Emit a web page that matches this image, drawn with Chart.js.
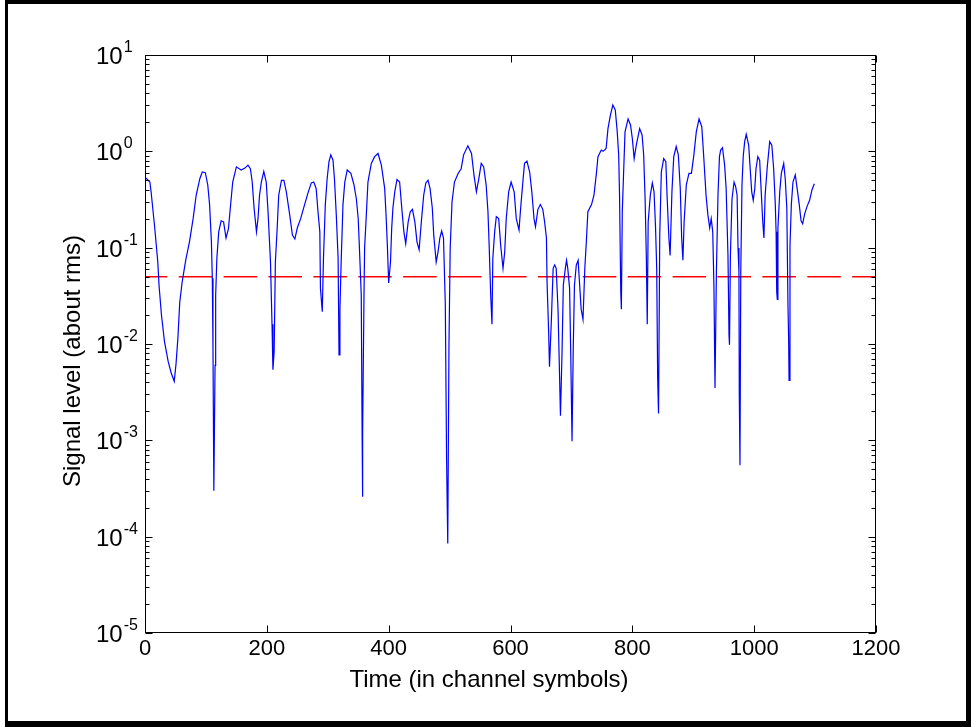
<!DOCTYPE html>
<html>
<head>
<meta charset="utf-8">
<script src="https://cdn.jsdelivr.net/npm/chart.js@4.4.1/dist/chart.umd.min.js"></script>
<style>
html,body{margin:0;padding:0;background:#fff;}
#wrap{position:relative;width:971px;height:727px;}
</style>
</head>
<body>
<div id="wrap"><canvas id="c" width="971" height="727"></canvas></div>
<script>
// ---- data (time in channel symbols, signal level about rms) ----
const timesA = [0,8,10,16,21,23,27,32,38,43,
 48,51,54,57,61,67,73,79,84,90,
 94,99,103,106,109,110.5,111.6,113,115,116,
 118,121,125,129,133,137,141,144,150,158,
 164,169,173,176,179,183,185.5,188,191,195,
 199,202,206,208.5,210,212,214,217,219.5,224,
 228,232,237.5,242,246,250,255.5,262,267.6,273,
 277,281,284,287,288,291,293,296,299,302,
 305,308.6,311,314,317,318.5,320,322,325,328,
 332,338,343,347,350,352,355,356.5,357,357.5,
 359.5,360.5,363,366,371.5,377];
const levelsA = [0.54,0.48,0.38,0.16,0.071,0.041,0.020,0.0106,0.0066,0.005,
 0.0041,0.0063,0.0115,0.027,0.044,0.075,0.115,0.20,0.35,0.52,
 0.61,0.60,0.45,0.28,0.115,0.048,0.009,0.0003,0.006,0.032,
 0.078,0.146,0.19,0.185,0.126,0.158,0.30,0.48,0.69,0.64,
 0.67,0.72,0.66,0.48,0.26,0.146,0.20,0.35,0.48,0.62,
 0.48,0.236,0.071,0.016,0.0054,0.0083,0.071,0.16,0.35,0.50,
 0.50,0.38,0.22,0.135,0.123,0.16,0.20,0.28,0.37,0.47,
 0.48,0.41,0.236,0.146,0.038,0.0216,0.078,0.28,0.52,0.78,
 0.92,0.81,0.52,0.22,0.078,0.0077,0.023,0.071,0.28,0.48,
 0.64,0.59,0.45,0.32,0.20,0.099,0.032,0.001,0.00026,0.0012,
 0.032,0.099,0.20,0.48,0.75,0.88];

const timesB = [382.5,388,393.5,396,398,400,403,405,407,410,
 413.7,418,422,425,428,432,435.5,439,443,446.5,
 450,453.6,457.5,461,464.6,468,471.6,474,478,481,
 484,487,490,493,495,497,499,501,504,508,
 514,519,523,530,536,540,544,548,552,556,
 560,563,565,567.5,569.6,571,574,576.7,580.6,584,
 587.7,590.5,593,597,601,606,609.5,614,616.7,620.5,
 623,627,631.5,635,638.6,641,645,649,653,656,
 659,660,662.6,664,667,670,672.5,675,678,680,
 682,684.5,686.7,690,692,694,697,699,701,703,
 705,708,711,713.5,716,719,722,724.5,727,733,
 737,741,743.6,749];
const levelsB = [0.95,0.72,0.41,0.20,0.099,0.043,0.071,0.16,0.26,0.38,
 0.51,0.48,0.236,0.146,0.11,0.185,0.236,0.25,0.185,0.115,
 0.095,0.185,0.35,0.47,0.50,0.41,0.26,0.135,0.071,0.09,
 0.126,0.149,0.126,0.0254,0.0007,0.000085,0.0098,0.099,0.30,0.48,
 0.59,0.66,0.92,1.14,0.95,0.57,0.38,0.52,0.75,0.69,
 0.45,0.236,0.104,0.032,0.016,0.078,0.146,0.21,0.20,0.104,
 0.061,0.09,0.20,0.38,0.48,0.38,0.20,0.152,0.26,0.50,
 0.75,0.79,0.61,0.38,0.20,0.165,0.25,0.28,0.25,0.185,
 0.126,0.044,0.0135,0.0058,0.017,0.061,0.066,0.061,0.023,0.0066,
 0.0018,0.0077,0.041,0.061,0.074,0.061,0.038,0.0071,0.00098,0.009,
 0.041,0.066,0.074,0.041,0.023,0.018,0.061,0.115,0.236,0.28,
 0.35,0.59,0.88,1.03];

const timesC = [752,757,760,764,768,772,775,777.6,779,781,
 782,783.5,786,788,793,797,800,803,806.5,812,
 816,818.6,821,823,824.5,826,829.5,832.8,835.6,838,
 840,841.6,843,845,847.6,851.5,855,857,860,862,
 865,868,872,875.5,878.7,881,883,885,888.6,893,
 897,900.7,905,909.5,914,917,921,924,927,929.5,
 932,934,935.7,938,940.6,943];
const levelsC = [1.0,1.07,1.72,2.38,3.02,2.69,1.66,0.92,0.35,0.035,
 0.023,0.236,0.69,1.59,2.17,1.88,1.36,0.84,1.16,1.72,
 1.48,0.92,0.32,0.078,0.016,0.185,0.35,0.47,0.38,0.17,
 0.061,0.0044,0.0019,0.135,0.61,0.84,0.78,0.35,0.126,0.083,
 0.38,0.88,1.12,0.92,0.41,0.126,0.074,0.185,0.45,0.59,
 0.59,0.88,1.59,2.17,1.80,0.92,0.35,0.22,0.16,0.20,
 0.146,0.038,0.0035,0.056,0.35,0.88];

const timesD = [945,948,951.5,954,957,958.7,959.5,961,963.6,967,
 969.6,972,973.5,975,975.6,976.7,978,980,982,984.4,
 987,991,993.6,996,998.5,1001,1003,1006,1009,1011.6,
 1014,1016,1018,1021.5,1025.5,1029,1032,1034.7,1036,1037,
 1038,1039,1042,1044.6,1048.5,1051,1053.6,1055.5,1056.6,1057.3,
 1058.8,1061,1063.7,1067.5,1070.8,1074,1077,1079.6,1083,1087,
 1091,1095,1098.7];
const levelsD = [1.03,1.09,0.72,0.41,0.083,0.0123,0.0098,0.083,0.32,0.48,
 0.43,0.35,0.099,0.056,0.0029,0.00055,0.056,0.45,0.88,1.26,
 1.50,1.16,0.64,0.38,0.31,0.41,0.66,0.88,0.81,0.38,
 0.19,0.126,0.35,0.69,1.26,1.16,0.66,0.28,0.146,0.035,
 0.029,0.16,0.38,0.59,0.75,0.52,0.26,0.0254,0.0112,0.0042,
 0.104,0.28,0.48,0.57,0.40,0.28,0.19,0.177,0.226,0.27,
 0.31,0.40,0.46];

const thresholdTimes = [0, 1200];
const thresholdLevels = [0.05, 0.05];

const xTickValues = [0, 200, 400, 600, 800, 1000, 1200];
const yExponents = [1, 0, -1, -2, -3, -4, -5];
const xTitle = 'Time (in channel symbols)';
const yTitle = 'Signal level (about rms)';

// ---- build library data ----
const times = [].concat(timesA, timesB, timesC, timesD);
const levels = [].concat(levelsA, levelsB, levelsC, levelsD);
const signal = times.map((t, i) => ({x: t, y: levels[i]}));
const threshold = thresholdTimes.map((t, i) => ({x: t, y: thresholdLevels[i]}));

const FONT = "'Liberation Sans', Arial, Helvetica, sans-serif";

const decor = {
  id: 'decor',
  beforeDraw(chart) {
    const ctx = chart.ctx;
    ctx.save();
    ctx.fillStyle = '#fff';
    ctx.fillRect(0, 0, chart.width, chart.height);
    ctx.fillStyle = '#000';
    ctx.fillRect(5, 0, 966, 4);     // top frame
    ctx.fillRect(5, 0, 3, 727);     // left frame
    ctx.fillRect(966, 0, 5, 727);   // right frame
    ctx.fillRect(5, 721, 966, 6);   // bottom frame
    ctx.restore();
  },
  afterDraw(chart) {
    const ctx = chart.ctx;
    const a = chart.chartArea;
    const xs = chart.scales.x, ys = chart.scales.y;
    ctx.save();
    ctx.strokeStyle = '#000';
    ctx.lineWidth = 1;
    const L = Math.round(a.left) + 0.5, R = Math.round(a.right) - 0.5;
    const T = Math.round(a.top) + 0.5, B = Math.round(a.bottom) - 0.5;
    ctx.strokeRect(L, T, R - L, B - T);
    ctx.beginPath();
    xTickValues.forEach(v => {
      const px = Math.round(xs.getPixelForValue(v)) + 0.5;
      ctx.moveTo(px, B); ctx.lineTo(px, B - 7);
      ctx.moveTo(px, T); ctx.lineTo(px, T + 7);
    });
    yExponents.forEach(e => {
      const py = Math.round(ys.getPixelForValue(Math.pow(10, e))) + 0.5;
      ctx.moveTo(L, py); ctx.lineTo(L + 7, py);
      ctx.moveTo(R, py); ctx.lineTo(R - 7, py);
      if (e > -5) {
        for (let m = 2; m <= 9; m++) {
          const q = Math.round(ys.getPixelForValue(m * Math.pow(10, e - 1))) + 0.5;
          ctx.moveTo(L, q); ctx.lineTo(L + 4, q);
          ctx.moveTo(R, q); ctx.lineTo(R - 4, q);
        }
      }
    });
    ctx.stroke();

    // y tick labels 10^k
    ctx.fillStyle = '#000';
    ctx.textAlign = 'left';
    ctx.textBaseline = 'alphabetic';
    yExponents.forEach(e => {
      const py = ys.getPixelForValue(Math.pow(10, e));
      ctx.font = '24px ' + FONT;
      ctx.fillText('10', 96, py + 9);
      const w = ctx.measureText('10').width;
      ctx.font = '16px ' + FONT;
      ctx.fillText(String(e), 96 + w + 1, py - 3);
    });

    // axis titles
    ctx.font = '24px ' + FONT;
    ctx.textAlign = 'center';
    ctx.fillText(xTitle, 489, 687);
    ctx.translate(80, 361);
    ctx.rotate(-Math.PI / 2);
    ctx.fillText(yTitle, 0, 0);
    ctx.restore();
  }
};

new Chart(document.getElementById('c'), {
  type: 'line',
  data: {
    datasets: [
      {label: 'signal', data: signal, borderColor: '#0000ff', borderWidth: 1.2,
       pointRadius: 0, tension: 0, fill: false},
      {label: 'threshold', data: threshold, borderColor: '#ff0000', borderWidth: 1.5,
       borderDash: [33.5, 11.4], borderDashOffset: 11.2, pointRadius: 0, tension: 0, fill: false}
    ]
  },
  options: {
    responsive: false,
    animation: false,
    devicePixelRatio: 1,
    layout: {padding: {top: 55, right: 95, left: 0, bottom: 0}},
    plugins: {legend: {display: false}, tooltip: {enabled: false}},
    scales: {
      x: {
        type: 'linear', min: 0, max: 1200,
        afterFit: s => { s.height = 94; },
        afterBuildTicks: s => { s.ticks = xTickValues.map(v => ({value: v})); },
        grid: {display: false}, border: {display: false},
        ticks: {color: '#000', padding: -5, maxRotation: 0, autoSkip: false,
                font: {family: FONT, size: 22}, callback: v => String(v)}
      },
      y: {
        type: 'logarithmic', min: 1e-5, max: 10,
        afterFit: s => { s.width = 145; },
        grid: {display: false}, border: {display: false},
        ticks: {display: false}
      }
    }
  },
  plugins: [decor]
});
</script>
</body>
</html>
